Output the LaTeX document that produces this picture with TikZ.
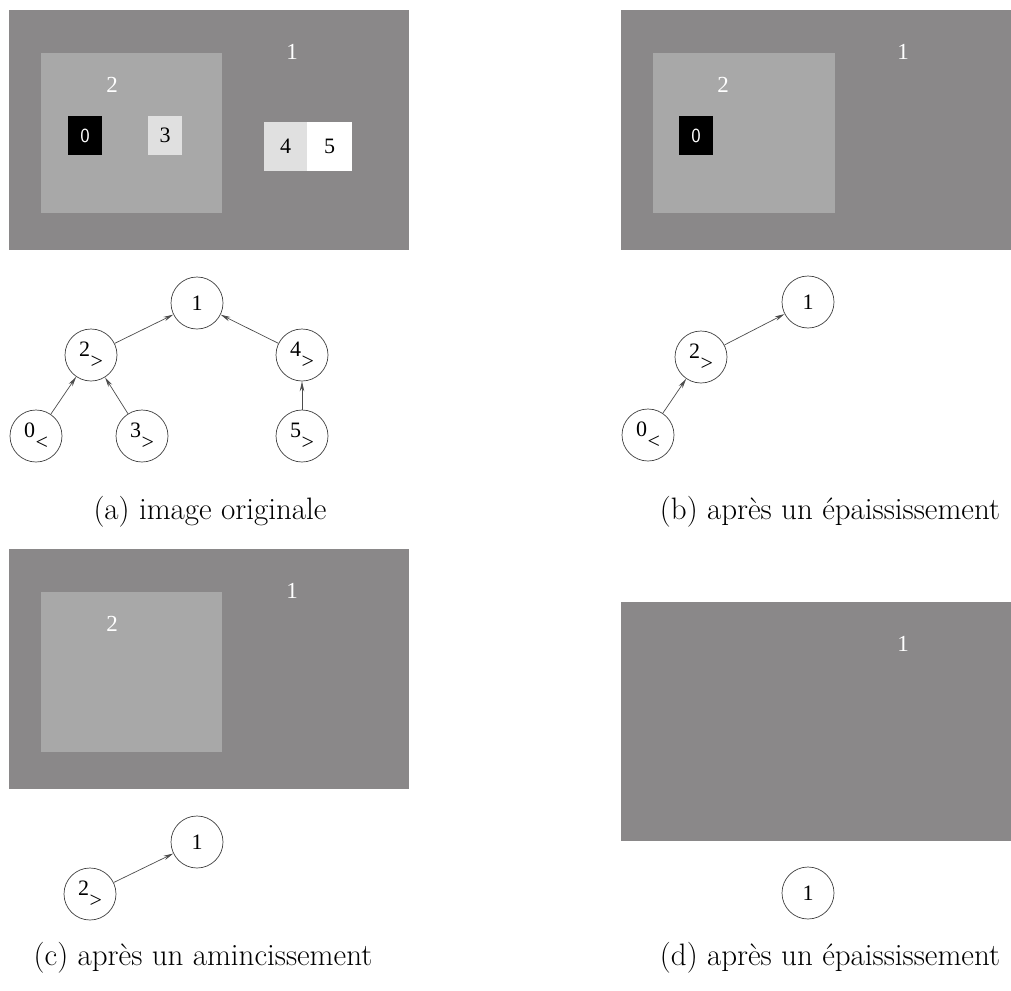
\documentclass[tikz,border=0pt]{standalone}
\usepackage{fontspec}
\newfontfamily\timesfont{Liberation Serif}
\usepackage{tikz}
\usetikzlibrary{arrows.meta}
\definecolor{imgdark}{RGB}{138,136,137}
\definecolor{imglight}{RGB}{168,168,168}
\definecolor{imgpale}{RGB}{224,224,224}
\tikzset{
  region/.style={circle, draw=black!75, line width=0.7pt, minimum size=52pt,
                 inner sep=0pt, font=\timesfont\fontsize{22}{24}\selectfont},
  link/.style={-{Stealth[length=10pt,width=4.5pt]}, draw=black!70, line width=0.7pt},
  tag/.style={text=white, inner sep=0pt, font=\timesfont\fontsize{23}{25}\selectfont},
  pixtag/.style={inner sep=0pt, font=\timesfont\fontsize{22}{24}\selectfont},
  caption/.style={inner sep=0pt, font=\fontsize{31}{36}\selectfont},
}
\newcommand\lowmark[2]{#1\raisebox{-0.55em}{\kern0.02em#2}}

\begin{document}
\begin{tikzpicture}[x=1pt, y=-1pt]
  \useasboundingbox (0,0) rectangle (1011,990);

  % (a) image originale
  \fill[imgdark] (9,10) rectangle (409,250);
  \fill[imglight] (41,53) rectangle (222,213);
  \fill[black] (68,116) rectangle (102,155);
  \fill[imgpale] (148,116) rectangle (182,155);
  \fill[imgpale] (264,122) rectangle (307,171);
  \fill[white] (307,122) rectangle (352,171);
  \node[tag] (ia1) at (292,52) {1};
  \node[tag] (ia2) at (112,85) {2};
  \node[tag, font=\sffamily\fontsize{20}{22}\selectfont] (ia0) at (85,135.5) {0};
  \node[pixtag] (ia3) at (165,135.5) {3};
  \node[pixtag] (ia4) at (285.5,146.5) {4};
  \node[pixtag] (ia5) at (329.5,146.5) {5};

  \node[region] (ta1) at (197,303) {1};
  \node[region] (ta2) at (91,355) {\lowmark{2}{>}};
  \node[region] (ta4) at (302,355) {\lowmark{4}{>}};
  \node[region] (ta0) at (36,436) {\lowmark{0}{<}};
  \node[region] (ta3) at (142,436) {\lowmark{3}{>}};
  \node[region] (ta5) at (302,436) {\lowmark{5}{>}};
  \draw[link] (ta2) -- (ta1);
  \draw[link] (ta4) -- (ta1);
  \draw[link] (ta0) -- (ta2);
  \draw[link] (ta3) -- (ta2);
  \draw[link] (ta5) -- (ta4);
  \node[caption] (capa) at (210,512) {(a) image originale};

  % (b) apres un epaississement
  \fill[imgdark] (621,10) rectangle (1011,250);
  \fill[imglight] (653,53) rectangle (835,213);
  \fill[black] (679,116) rectangle (713,155);
  \node[tag] (ib1) at (903,52) {1};
  \node[tag] (ib2) at (723,85) {2};
  \node[tag, font=\sffamily\fontsize{20}{22}\selectfont] (ib0) at (696,135.5) {0};

  \node[region] (tb1) at (808,302) {1};
  \node[region] (tb2) at (701,357) {\lowmark{2}{>}};
  \node[region] (tb0) at (648,435) {\lowmark{0}{<}};
  \draw[link] (tb2) -- (tb1);
  \draw[link] (tb0) -- (tb2);
  \node[caption] (capb) at (830,512) {(b) après un épaississement};

  % (c) apres un amincissement
  \fill[imgdark] (9,549) rectangle (409,789);
  \fill[imglight] (41,592) rectangle (222,752);
  \node[tag] (ic1) at (292,591) {1};
  \node[tag] (ic2) at (112,624) {2};

  \node[region] (tc1) at (197,842) {1};
  \node[region] (tc2) at (90,894) {\lowmark{2}{>}};
  \draw[link] (tc2) -- (tc1);
  \node[caption] (capc) at (203,958) {(c) après un amincissement};

  % (d) apres un epaississement
  \fill[imgdark] (621,602) rectangle (1011,841);
  \node[tag] (id1) at (903,644) {1};

  \node[region] (td1) at (808,893) {1};
  \node[caption] (capd) at (830,958) {(d) après un épaississement};
\end{tikzpicture}
\end{document}
